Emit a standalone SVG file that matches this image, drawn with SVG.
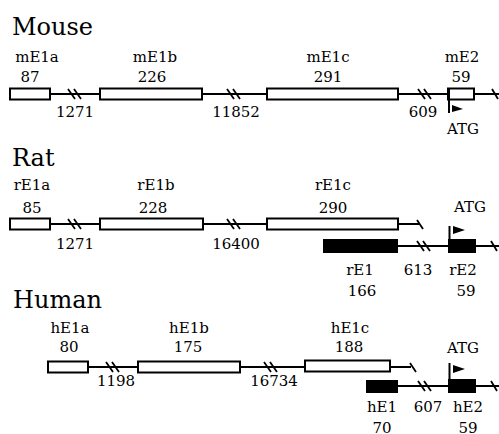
<svg xmlns="http://www.w3.org/2000/svg" width="499" height="434" viewBox="0 0 499 434">
  <style>
    text { font-family: "DejaVu Serif", "Liberation Serif", serif; fill: #000; }
    .title { font-size: 24px; }
    .lbl { font-size: 15px; text-anchor: middle; }
    .open { fill: #fff; stroke: #000; stroke-width: 2; }
    .solid { fill: #000; stroke: #000; stroke-width: 1; }
    .ln { fill: none; stroke: #000; stroke-width: 2; }
    .brk { fill: none; stroke: #000; stroke-width: 1.8; }
  </style>
  <rect width="499" height="434" fill="#fff"/>

  <!-- intron lines, breaks and line ends -->
  <g id="connectors">
    <!-- Mouse -->
    <path class="ln" d="M50 94H100 M202 94H267 M398 94H448 M474 94H499"/>
    <path class="brk" d="M68 89L75 99 M74 89L81 99 M227 89L234 99 M233 89L240 99 M418 89L425 99 M424 89L431 99 M492 89L498 99"/>
    <!-- Rat -->
    <path class="ln" d="M50 224H100 M203 224H267 M398 224H419 M398 246H448 M476 246H499"/>
    <path class="brk" d="M68 219L75 229 M74 219L81 229 M227 219L234 229 M233 219L240 229 M417 220L423 229 M417 241L424 251 M423 241L430 251 M491 241L497 251"/>
    <!-- Human -->
    <path class="ln" d="M88 367H138 M240 367H305 M390 367H411 M398 386H448 M476 386H499"/>
    <path class="brk" d="M106 362L113 372 M112 362L119 372 M264 362L271 372 M270 362L277 372 M410 363L416 372 M418 381L425 391 M424 381L431 391 M491 381L497 391"/>
  </g>

  <!-- Mouse -->
  <text class="title" x="12" y="35">Mouse</text>
  <g id="mE1a">
    <rect class="open" x="10" y="88.5" width="40" height="11"/>
    <text class="lbl" x="37" y="62">mE1a</text>
    <text class="lbl" x="30" y="82">87</text>
  </g>
  <text class="lbl" x="75" y="117">1271</text>
  <g id="mE1b">
    <rect class="open" x="100" y="88.5" width="102" height="11"/>
    <text class="lbl" x="155" y="62">mE1b</text>
    <text class="lbl" x="152" y="82">226</text>
  </g>
  <text class="lbl" x="236" y="117">11852</text>
  <g id="mE1c">
    <rect class="open" x="267" y="88.5" width="131" height="11"/>
    <text class="lbl" x="328" y="62">mE1c</text>
    <text class="lbl" x="328" y="82">291</text>
  </g>
  <text class="lbl" x="423" y="117">609</text>
  <g id="mE2">
    <rect class="open" x="448" y="88.5" width="26" height="11"/>
    <path class="ln" d="M449 88V113"/>
    <polygon points="452,105 463,109 452,112" fill="#000"/>
    <text class="lbl" x="462" y="62">mE2</text>
    <text class="lbl" x="461" y="82">59</text>
    <text class="lbl" x="463" y="134">ATG</text>
  </g>

  <!-- Rat -->
  <text class="title" x="12" y="166">Rat</text>
  <g id="rE1a">
    <rect class="open" x="10" y="218.5" width="40" height="11"/>
    <text class="lbl" x="32" y="190">rE1a</text>
    <text class="lbl" x="32" y="213">85</text>
  </g>
  <text class="lbl" x="75" y="249">1271</text>
  <g id="rE1b">
    <rect class="open" x="100" y="218.5" width="103" height="11"/>
    <text class="lbl" x="156" y="190">rE1b</text>
    <text class="lbl" x="153" y="213">228</text>
  </g>
  <text class="lbl" x="236" y="249">16400</text>
  <g id="rE1c">
    <rect class="open" x="267" y="218.5" width="131" height="11"/>
    <text class="lbl" x="333" y="190">rE1c</text>
    <text class="lbl" x="333" y="213">290</text>
  </g>
  <g id="rE1">
    <rect class="solid" x="323.5" y="239.5" width="74" height="13"/>
    <text class="lbl" x="360" y="275">rE1</text>
    <text class="lbl" x="362" y="296">166</text>
  </g>
  <text class="lbl" x="418" y="275">613</text>
  <g id="rE2">
    <rect class="solid" x="448.5" y="239.5" width="27" height="13"/>
    <path class="ln" d="M449.5 240V226"/>
    <polygon points="453,226 465,230 453,234" fill="#000"/>
    <text class="lbl" x="470" y="212">ATG</text>
    <text class="lbl" x="463" y="275">rE2</text>
    <text class="lbl" x="466" y="296">59</text>
  </g>

  <!-- Human -->
  <text class="title" x="13" y="308">Human</text>
  <g id="hE1a">
    <rect class="open" x="48" y="361.5" width="40" height="11"/>
    <text class="lbl" x="70" y="333">hE1a</text>
    <text class="lbl" x="69" y="352">80</text>
  </g>
  <text class="lbl" x="116" y="386">1198</text>
  <g id="hE1b">
    <rect class="open" x="138" y="361.5" width="102" height="11"/>
    <text class="lbl" x="189" y="333">hE1b</text>
    <text class="lbl" x="188" y="352">175</text>
  </g>
  <text class="lbl" x="274" y="386">16734</text>
  <g id="hE1c">
    <rect class="open" x="305" y="360.5" width="85" height="11"/>
    <text class="lbl" x="350" y="333">hE1c</text>
    <text class="lbl" x="349" y="352">188</text>
  </g>
  <g id="hE1">
    <rect class="solid" x="366.5" y="380.5" width="31" height="12"/>
    <text class="lbl" x="382" y="412">hE1</text>
    <text class="lbl" x="382" y="433">70</text>
  </g>
  <text class="lbl" x="428" y="412">607</text>
  <g id="hE2">
    <rect class="solid" x="448.5" y="379.5" width="27" height="13"/>
    <path class="ln" d="M449.5 380V363"/>
    <polygon points="453,365 465,369 453,373" fill="#000"/>
    <text class="lbl" x="463" y="353">ATG</text>
    <text class="lbl" x="468" y="412">hE2</text>
    <text class="lbl" x="468" y="433">59</text>
  </g>
</svg>
